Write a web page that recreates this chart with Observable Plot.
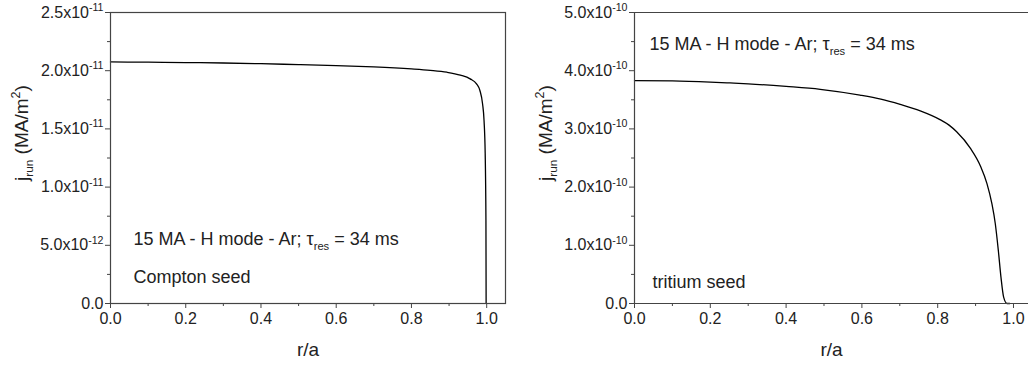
<!DOCTYPE html>
<html>
<head>
<meta charset="utf-8">
<script src="https://cdn.jsdelivr.net/npm/d3@7"></script>
<script src="https://cdn.jsdelivr.net/npm/@observablehq/plot@0.6"></script>
<style>
  html, body { margin: 0; padding: 0; background: #fff; overflow: hidden; }
  #wrap { display: flex; width: 1028px; height: 369px; }
  svg { display: block; }
</style>
</head>
<body>
<div id="wrap"></div>
<script>
// ---- Data ----
// Left panel: Compton seed
const rCompton = [0, 0.1, 0.2, 0.3, 0.4, 0.5, 0.6, 0.7, 0.8, 0.85, 0.894, 0.93, 0.956, 0.973, 0.982, 0.989, 0.993, 0.996, 0.998, 0.9985];
const jCompton = [2.075e-11, 2.073e-11, 2.070e-11, 2.066e-11, 2.060e-11, 2.052e-11, 2.043e-11, 2.032e-11, 2.015e-11, 2.003e-11, 1.987e-11, 1.962e-11, 1.930e-11, 1.887e-11, 1.830e-11, 1.716e-11, 1.570e-11, 1.290e-11, 0.710e-11, 0];
// Right panel: tritium seed
const rTritium = [0, 0.1, 0.2, 0.252, 0.3, 0.4, 0.49, 0.595, 0.65, 0.701, 0.754, 0.806, 0.83, 0.85, 0.886, 0.913, 0.930, 0.943, 0.952, 0.960, 0.967, 0.974, 0.983, 0.99];
const jTritium = [3.83e-10, 3.825e-10, 3.805e-10, 3.79e-10, 3.775e-10, 3.73e-10, 3.68e-10, 3.58e-10, 3.51e-10, 3.42e-10, 3.31e-10, 3.16e-10, 3.065e-10, 2.95e-10, 2.67e-10, 2.36e-10, 2.06e-10, 1.715e-10, 1.37e-10, 0.91e-10, 0.45e-10, 0.11e-10, 0, 0];

// Ticks
const xTicks = [0, 0.2, 0.4, 0.6, 0.8, 1.0];
const xMinor = [0.1, 0.3, 0.5, 0.7, 0.9];
const yTicksLeft = [0, 5e-12, 1e-11, 1.5e-11, 2e-11, 2.5e-11];
const yMinorLeft = [2.5e-12, 7.5e-12, 1.25e-11, 1.75e-11, 2.25e-11];
const yTicksRight = [0, 1e-10, 2e-10, 3e-10, 4e-10, 5e-10];
const yMinorRight = [0.5e-10, 1.5e-10, 2.5e-10, 3.5e-10, 4.5e-10];

// Texts
const xTitle = "r/a";
const yTitle = "j_{run} (MA/m^{2})";
const noteCase = "15 MA - H mode - Ar; τ_{res} = 34 ms";
const noteLeft = "Compton seed";
const noteRight = "tritium seed";

const FONT = "'Liberation Sans', Arial, Helvetica, sans-serif";
const AXIS = "#444";
const TXT = "#222";

function fmtY(d) {
  if (d === 0) return "0.0";
  const e = Math.floor(Math.log10(d) + 1e-9);
  const m = d / Math.pow(10, e);
  return `${m.toFixed(1)}x10^{${e}}`;
}

function panel({width, marginLeft, marginRight, xDomain, yDomain, yTicks, yMinor, r, j, notes, framed}) {
  const data = r.map((x, i) => ({x, y: j[i]}));
  const marks = [
    Plot.line(data, {x: "x", y: "y", stroke: "#000", strokeWidth: 1.3, curve: "monotone-x"}),
    Plot.axisX(xTicks, {tickSize: 5, tickPadding: 4, fontSize: 16, stroke: AXIS, fill: TXT, tickFormat: d => d.toFixed(1), label: null}),
    Plot.axisX(xMinor, {tickSize: 3, tickFormat: () => "", stroke: AXIS, label: null}),
    Plot.axisY(yTicks, {tickSize: 5, tickPadding: 2, fontSize: 16, stroke: AXIS, fill: TXT, tickFormat: fmtY, label: null}),
    Plot.axisY(yMinor, {tickSize: 3, tickFormat: () => "", stroke: AXIS, label: null}),
    Plot.text([xTitle], {frameAnchor: "bottom", dy: 52, lineAnchor: "bottom", fontSize: 19, fill: TXT}),
    Plot.text([yTitle], {frameAnchor: "left", dx: -89, dy: 23, rotate: -90, fontSize: 19, fill: TXT}),
    ...notes.map(n => Plot.text([n.text], {frameAnchor: "top-left", dx: n.dx, dy: n.dy, textAnchor: "start", lineAnchor: "bottom", fontSize: 18, fill: TXT}))
  ];
  if (framed) {
    marks.push(Plot.frame({stroke: AXIS, strokeWidth: 1.2}));
  } else {
    marks.push(Plot.ruleY([yDomain[0], yDomain[1]], {stroke: AXIS, strokeWidth: 1.2}));
    marks.push(Plot.ruleX([xDomain[0]], {stroke: AXIS, strokeWidth: 1.2}));
  }
  return Plot.plot({
    width, height: 369,
    marginLeft, marginRight, marginTop: 12, marginBottom: 66,
    style: {fontFamily: FONT, background: "#fff", color: TXT, overflow: "visible"},
    x: {domain: xDomain, label: null},
    y: {domain: yDomain, label: null},
    marks
  });
}

function rich(svg) {
  svg.querySelectorAll("text").forEach(t => {
    const s = t.textContent;
    if (!/[\^_]\{/.test(s)) return;
    const fs = parseFloat(getComputedStyle(t).fontSize) || 16;
    while (t.firstChild) t.removeChild(t.firstChild);
    const re = /([\^_])\{([^}]*)\}/g;
    let last = 0, m, cur = 0;
    const add = (str, target, size) => {
      const ts = document.createElementNS("http://www.w3.org/2000/svg", "tspan");
      ts.textContent = str;
      const dy = target - cur;
      if (dy !== 0) ts.setAttribute("dy", dy.toFixed(2));
      if (size) ts.setAttribute("font-size", size.toFixed(1));
      cur = target;
      t.appendChild(ts);
    };
    while ((m = re.exec(s))) {
      if (m.index > last) add(s.slice(last, m.index), 0);
      if (m[1] === "^") add(m[2], -0.42 * fs, 0.66 * fs);
      else add(m[2], 0.28 * fs, 0.62 * fs);
      last = re.lastIndex;
    }
    if (last < s.length) add(s.slice(last), 0);
  });
}

const wrap = document.getElementById("wrap");
const left = panel({
  width: 514, marginLeft: 110, marginRight: 9,
  xDomain: [0, 1.05], yDomain: [0, 2.5e-11],
  yTicks: yTicksLeft, yMinor: yMinorLeft,
  r: rCompton, j: jCompton, framed: true,
  notes: [{text: noteCase, dx: 23, dy: 232}, {text: noteLeft, dx: 23, dy: 270}]
});
const right = panel({
  width: 514, marginLeft: 120, marginRight: 0,
  xDomain: [0, 1.0396], yDomain: [0, 5e-10],
  yTicks: yTicksRight, yMinor: yMinorRight,
  r: rTritium, j: jTritium, framed: false,
  notes: [{text: noteCase, dx: 15, dy: 37}, {text: noteRight, dx: 18, dy: 275}]
});
wrap.appendChild(left);
wrap.appendChild(right);
rich(left);
rich(right);
</script>
</body>
</html>
